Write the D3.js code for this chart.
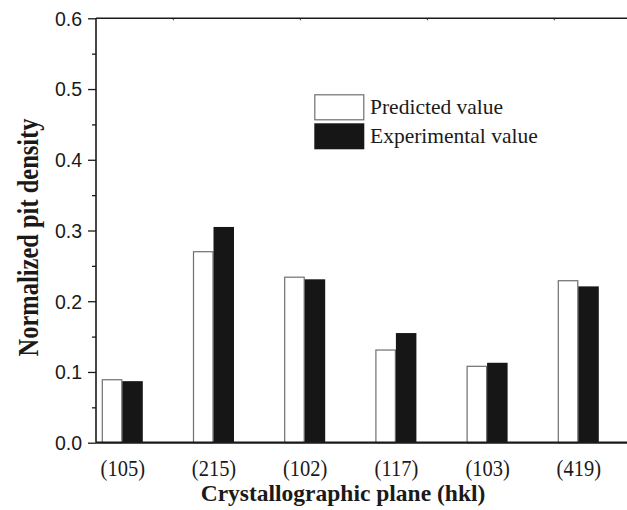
<!DOCTYPE html>
<html>
<head>
<meta charset="utf-8">
<script src="https://cdn.jsdelivr.net/npm/d3@7"></script>
<style>
  html, body { margin: 0; padding: 0; background: #fff; }
  svg { display: block; }
</style>
</head>
<body>
<svg id="chart" width="627" height="510"></svg>
<script>
const categories = ["(105)", "(215)", "(102)", "(117)", "(103)", "(419)"];
const seriesNames = ["Predicted value", "Experimental value"];
const predicted = [0.089, 0.270, 0.234, 0.131, 0.108, 0.229];
const experimental = [0.087, 0.305, 0.231, 0.155, 0.113, 0.221];
const yTicks = [0.0, 0.1, 0.2, 0.3, 0.4, 0.5, 0.6];
const yMinorTicks = [0.05, 0.15, 0.25, 0.35, 0.45, 0.55];
const xTitle = "Crystallographic plane (hkl)";
const yTitle = "Normalized pit density";

(function () {
const svg = d3.select("#chart");
const mLeft = 96, mRight = 640, mTop = 18.3, mBottom = 442.7;
const ink = "#1a1a1a";

const y = d3.scaleLinear().domain([0, 0.6]).range([mBottom, mTop]);
const x = d3.scalePoint().domain(categories).range([122.3, 578.3]);
const sub = d3.scaleBand().domain(seriesNames).range([-20.5, 20.5]);

const rows = categories.map((c, i) => ({ c, vals: [predicted[i], experimental[i]] }));

// bars
const g = svg.append("g");
rows.forEach(r => {
  r.vals.forEach((v, k) => {
    const name = seriesNames[k];
    const isPred = k === 0;
    g.append("rect")
      .attr("x", x(r.c) + sub(name) + (isPred ? 0.5 : 0))
      .attr("y", y(v))
      .attr("width", sub.bandwidth() - (isPred ? 1 : 0))
      .attr("height", y(0) - y(v))
      .attr("fill", isPred ? "#fff" : "#161616")
      .attr("stroke", isPred ? "#6f6f6f" : "none")
      .attr("stroke-width", 1.2);
  });
});

// left axis
const yAxis = d3.axisLeft(y).tickValues(yTicks).tickSize(8).tickPadding(6)
  .tickFormat(d3.format(".1f"));
const ya = svg.append("g").attr("transform", `translate(${mLeft},0)`).call(yAxis);
ya.select(".domain").remove();
ya.selectAll("line").attr("stroke", ink).attr("stroke-width", 1.3);
ya.selectAll("text").attr("font-family", "Liberation Sans, Arial, sans-serif")
  .attr("font-size", 19.5).attr("fill", ink).attr("dy", "0.35em");

const yMinor = d3.axisLeft(y).tickValues(yMinorTicks).tickSize(4).tickFormat("");
const ym = svg.append("g").attr("transform", `translate(${mLeft},0)`).call(yMinor);
ym.select(".domain").remove();
ym.selectAll("line").attr("stroke", ink).attr("stroke-width", 1.3);

// left axis line
svg.append("line").attr("x1", mLeft).attr("x2", mLeft).attr("y1", mTop).attr("y2", mBottom)
  .attr("stroke", ink).attr("stroke-width", 1.6);

// top line with small ticks
const topScale = d3.scaleLinear().domain([0, 1]).range([172.9, 299.9]);
const ta = svg.append("g").attr("transform", `translate(0,${mTop})`)
  .call(d3.axisBottom(topScale).tickValues([0, 1, 2, 3]).tickSize(2).tickFormat(""));
ta.select(".domain").remove();
ta.selectAll("line").attr("stroke", "#555").attr("stroke-width", 1.2);
svg.append("line").attr("x1", mLeft).attr("x2", mRight).attr("y1", mTop).attr("y2", mTop)
  .attr("stroke", ink).attr("stroke-width", 1.6);

// bottom axis
const stretch = 1.1;
const xa = svg.append("g").attr("transform", `translate(0,${mBottom})`)
  .call(d3.axisBottom(x).tickSize(0));
xa.select(".domain").remove();
xa.selectAll("text").attr("font-family", "Liberation Serif, Times New Roman, serif")
  .attr("font-size", 20.5).attr("fill", ink).attr("dy", null)
  .attr("y", 33.5 / stretch).attr("transform", `scale(1,${stretch})`);
svg.append("line").attr("x1", mLeft).attr("x2", mRight).attr("y1", mBottom).attr("y2", mBottom)
  .attr("stroke", ink).attr("stroke-width", 2.2);

// titles
svg.append("text").attr("x", 343).attr("y", 501).attr("text-anchor", "middle")
  .attr("font-family", "Liberation Serif, Times New Roman, serif").attr("font-weight", "bold")
  .attr("font-size", 23.5).attr("fill", ink).text(xTitle);
svg.append("text").attr("transform", "translate(38,237.5) rotate(-90) scale(1,1.2)").attr("text-anchor", "middle")
  .attr("font-family", "Liberation Serif, Times New Roman, serif").attr("font-weight", "bold")
  .attr("font-size", 24.5).attr("fill", ink).text(yTitle);

// legend
const legend = svg.append("g");
seriesNames.forEach((name, k) => {
  const ly = 94.3 + k * 29;
  legend.append("rect").attr("x", k === 0 ? 314.8 : 314.3).attr("y", k === 0 ? ly + 0.5 : ly)
    .attr("width", k === 0 ? 49 : 50).attr("height", k === 0 ? 25 : 26)
    .attr("fill", k === 0 ? "#fff" : "#161616")
    .attr("stroke", k === 0 ? "#6f6f6f" : "none").attr("stroke-width", 1.2);
  legend.append("text").attr("x", 370).attr("y", ly + 20)
    .attr("font-family", "Liberation Serif, Times New Roman, serif")
    .attr("font-size", 21.5).attr("fill", ink).text(name);
});
})();
</script>
</body>
</html>
